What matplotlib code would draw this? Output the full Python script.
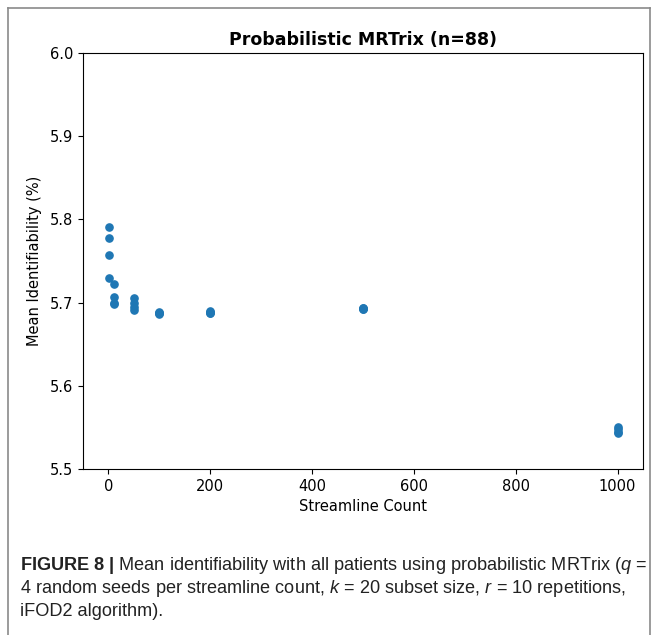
import matplotlib
matplotlib.use("Agg")
import matplotlib.pyplot as plt
from matplotlib.lines import Line2D

# Data
streamline_counts = [1, 10, 50, 100, 200, 500, 1000]
identifiability = {
    1:    [5.791, 5.778, 5.757, 5.729],
    10:   [5.722, 5.707, 5.700, 5.698],
    50:   [5.705, 5.700, 5.695, 5.691],
    100:  [5.689, 5.688, 5.687, 5.686],
    200:  [5.690, 5.689, 5.688, 5.687],
    500:  [5.694, 5.693, 5.692, 5.692],
    1000: [5.550, 5.548, 5.545, 5.543],
}
title = "Probabilistic MRTrix (n=88)"
xlabel = "Streamline Count"
ylabel = "Mean Identifiability (%)"
caption_lines = [
    r"$\mathbf{FIGURE\ 8\ |}$ Mean identifiability with all patients using probabilistic MRTrix ($q$ =",
    r"4 random seeds per streamline count, $k$ = 20 subset size, $r$ = 10 repetitions,",
    r"iFOD2 algorithm).",
]

plt.rcParams["mathtext.fontset"] = "custom"
plt.rcParams["mathtext.rm"] = "Liberation Sans"
plt.rcParams["mathtext.it"] = "Liberation Sans:italic"
plt.rcParams["mathtext.bf"] = "Liberation Sans:bold"

W, H = 655, 635
fig = plt.figure(figsize=(W / 100, H / 100), dpi=100)

def fx(px):
    return px / W

def fy(py):
    return 1 - py / H

ax = fig.add_axes([fx(83), fy(469), fx(643) - fx(83), fy(53) - fy(469)])
xs, ys = [], []
for c in streamline_counts:
    for v in identifiability[c]:
        xs.append(c)
        ys.append(v)
ax.scatter(xs, ys, s=27, color="#1f77b4", zorder=3)
ax.set_ylim(5.5, 6.0)
ax.set_xlim(-50, 1050)
ax.set_xticks([0, 200, 400, 600, 800, 1000])
ax.set_yticks([5.5, 5.6, 5.7, 5.8, 5.9, 6.0])
ax.tick_params(labelsize=10.5)
ax.set_title(title, fontsize=12.5, fontweight="bold")
ax.set_xlabel(xlabel, fontsize=10.5)
ax.set_ylabel(ylabel, fontsize=10.5, labelpad=6)

# Panel frame (left, top, right; bottom edge lies below the image)
frame_col = "#8a8a8a"
fig.add_artist(Line2D([fx(7.5), fx(7.5)], [fy(7.5), fy(640)],
                      transform=fig.transFigure, color=frame_col, linewidth=1.2))
fig.add_artist(Line2D([fx(7.5), fx(650)], [fy(7.5), fy(7.5)],
                      transform=fig.transFigure, color=frame_col, linewidth=1.2))
fig.add_artist(Line2D([fx(650), fx(650)], [fy(7.5), fy(640)],
                      transform=fig.transFigure, color=frame_col, linewidth=1.2))

for i, line in enumerate(caption_lines):
    fig.text(fx(20), fy(566 + 22.5 * i), line, fontsize=13.1,
             family=["Liberation Sans", "DejaVu Sans"],
             va="center", ha="left", color="#222222")

fig.savefig("out.png", dpi=100)
